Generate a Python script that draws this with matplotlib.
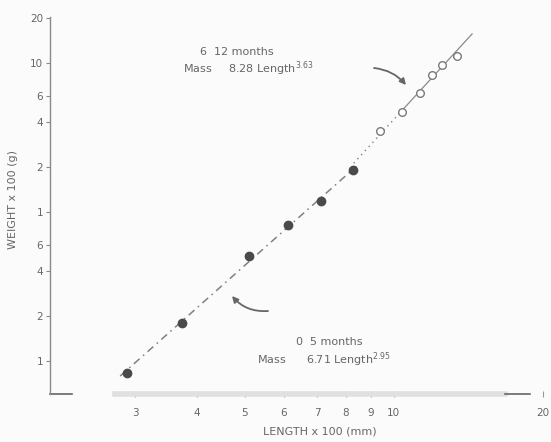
import numpy as np
import matplotlib
matplotlib.use('Agg')
import matplotlib.pyplot as plt
from matplotlib.ticker import FixedLocator, FixedFormatter, NullLocator

# Length (x 100 mm) and weight (x 100 g)
len_young = [2.89, 3.73, 5.09, 6.11, 7.12, 8.26]     # 0 - 5 months, filled
wt_young = [0.083, 0.180, 0.507, 0.818, 1.185, 1.91]
len_old = [9.37, 10.38, 11.28, 11.93, 12.50, 13.41]  # 6 - 12 months, open
wt_old = [3.50, 4.69, 6.29, 8.31, 9.70, 11.14]

# Power-law fits as drawn (coefficient in plot units, exponent from caption)
coef_young, exp_young = 0.0038, 2.95
coef_old, exp_old = 0.00098, 3.63
fit_young_range = [2.8, 8.4]
fit_old_dotted = [8.3, 10.4]
fit_old_solid = [10.4, 14.4]

x_ticks = [3, 4, 5, 6, 7, 8, 9, 10, 20]
x_labels = ['3', '4', '5', '6', '7', '8', '9', '10', '20']
y_ticks = [0.1, 0.2, 0.4, 0.6, 1, 2, 4, 6, 10, 20]
y_labels = ['1', '2', '4', '6', '1', '2', '4', '6', '10', '20']

W, H = 551, 442
ink = '#4a4a4a'
txt = '#666666'


def px(x, y):
    # top-left pixel position -> figure fraction
    return x / W, 1 - y / H


fig = plt.figure(figsize=(W / 100, H / 100), dpi=100, facecolor='#fbfbfb')
ax = fig.add_axes([50 / W, 1 - 394 / H, (548 - 50) / W, (394 - 17) / H])
ax.set_facecolor('#fbfbfb')
ax.set_xscale('log')
ax.set_yscale('log')
ax.set_xlim(2.02, 20.5)
ax.set_ylim(0.06, 20.4)

# fitted lines
xf = np.geomspace(*fit_young_range, 50)
ax.plot(xf, coef_young * xf ** exp_young, color='#808080', lw=1.1, ls=(0, (5, 3, 1, 3)))
xf = np.geomspace(*fit_old_dotted, 30)
ax.plot(xf, coef_old * xf ** exp_old, color='#808080', lw=1.0, ls=(0, (1, 3)))
xf = np.geomspace(*fit_old_solid, 30)
ax.plot(xf, coef_old * xf ** exp_old, color='#8a8a8a', lw=0.9)

# data points
ax.plot(len_young, wt_young, 'o', color=ink, ms=6, mec=ink)
ax.plot(len_old, wt_old, 'o', mfc='white', mec='#7a7a7a', mew=1.0, ms=5.5)

# axes styling: scanned bottom axis is broken up into pieces
for s in ['top', 'right', 'bottom']:
    ax.spines[s].set_visible(False)
ax.spines['left'].set_color('#8a8a8a')
ax.spines['left'].set_linewidth(1.0)
ax.axhline(0.06, xmin=0, xmax=0.045, color='#666666', lw=1.2, clip_on=False)
ax.axhline(0.06, xmin=0.13, xmax=0.914, color='#e0e0e0', lw=4, clip_on=False)
ax.axhline(0.06, xmin=0.914, xmax=0.964, color='#666666', lw=1.2, clip_on=False)

ax.xaxis.set_major_locator(FixedLocator(x_ticks))
ax.xaxis.set_major_formatter(FixedFormatter(x_labels))
ax.xaxis.set_minor_locator(NullLocator())
ax.yaxis.set_major_locator(FixedLocator(y_ticks))
ax.yaxis.set_major_formatter(FixedFormatter(y_labels))
ax.yaxis.set_minor_locator(NullLocator())
ax.tick_params(axis='x', direction='inout', length=4, width=0.8, color='#999999',
               labelsize=7.5, labelcolor=txt, pad=8)
ax.tick_params(axis='y', direction='out', length=3, width=0.8, color='#888888',
               labelsize=7.5, labelcolor=txt, pad=2)

fig.text(*px(320, 431), 'LENGTH x 100 (mm)', ha='center', va='center',
         fontsize=8, color=txt)
fig.text(*px(13, 200), 'WEIGHT x 100 (g)', ha='center', va='center',
         rotation=90, fontsize=8, color=txt)

# annotations
fig.text(*px(200, 52), '6  12 months', ha='left', va='center', fontsize=8,
         color=txt)
fig.text(*px(183, 69), 'Mass     8.28 Length$^{3.63}$', ha='left', va='center',
         fontsize=8, color=txt)
fig.text(*px(296, 342), '0  5 months', ha='left', va='center', fontsize=8,
         color=txt)
fig.text(*px(257, 360), 'Mass      6.71 Length$^{2.95}$', ha='left', va='center',
         fontsize=8, color=txt)

arrow = dict(arrowstyle='-|>', color='#666666', lw=1.3, mutation_scale=9,
             shrinkA=0, shrinkB=0)
fig.add_artist(matplotlib.patches.FancyArrowPatch(
    px(374, 68), px(406, 85), connectionstyle='arc3,rad=-0.2',
    transform=fig.transFigure, **arrow))
fig.add_artist(matplotlib.patches.FancyArrowPatch(
    px(268, 311), px(232, 296), connectionstyle='arc3,rad=-0.25',
    transform=fig.transFigure, **arrow))

fig.savefig('out.png', dpi=100, facecolor=fig.get_facecolor())
